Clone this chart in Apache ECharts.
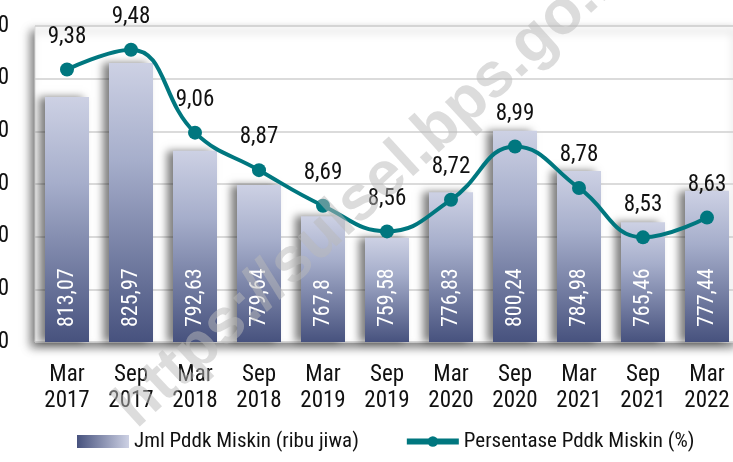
<!DOCTYPE html>
<html><head><meta charset="utf-8">
<script src="https://cdn.jsdelivr.net/npm/echarts@6/dist/echarts.min.js"></script>
<style>html,body{margin:0;padding:0;background:#fff}#c{width:733px;height:462px}</style>
</head><body><div id="c"></div>
<script>
const categories = ['Mar\n2017','Sep\n2017','Mar\n2018','Sep\n2018','Mar\n2019','Sep\n2019','Mar\n2020','Sep\n2020','Mar\n2021','Sep\n2021','Mar\n2022'];
const jmlMiskin = [813.07, 825.97, 792.63, 779.64, 767.8, 759.58, 776.83, 800.24, 784.98, 765.46, 777.44];
const persenMiskin = [9.38, 9.48, 9.06, 8.87, 8.69, 8.56, 8.72, 8.99, 8.78, 8.53, 8.63];
const barName = 'Jml Pddk Miskin (ribu jiwa)';
const lineName = 'Persentase Pddk Miskin (%)';
const watermark = 'https://sulsel.bps.go.id';

const FONT = "'Liberation Sans Narrow','Arial Narrow','Roboto Condensed','Liberation Sans',sans-serif";
const fmt = v => String(v).replace('.', ',');

const chart = echarts.init(document.getElementById('c'), null, {renderer:'canvas'});
chart.setOption({
  animation:false,
  backgroundColor:'#fff',
  textStyle:{fontFamily:FONT},
  grid:{left:35, top:26, width:704, height:316, show:true, backgroundColor:'#fff',
        outerBoundsMode:'none', containLabel:false,
        borderWidth:1, borderColor:'#d8d8d8',
        shadowColor:'rgba(0,0,0,0.5)', shadowBlur:9, shadowOffsetX:-4, shadowOffsetY:5},
  legend:{bottom:5, left:72, itemGap:45, itemWidth:52, itemHeight:13,
    textStyle:{fontFamily:FONT, fontSize:21, color:'#111'},
    data:[
      {name:barName, icon:'rect',
       itemStyle:{color:new echarts.graphic.LinearGradient(0,0,1,0,[{offset:0,color:'#47527e'},{offset:1,color:'#cdd1e4'}])}},
      {name:lineName, lineStyle:{width:6}}
    ]},
  xAxis:{type:'category', data:categories,
    axisLine:{show:false}, axisTick:{show:false},
    axisLabel:{fontFamily:FONT, fontSize:23, color:'#111', lineHeight:26, margin:20}},
  yAxis:[
    {type:'value', min:720, max:840, interval:20,
     splitLine:{lineStyle:{color:'#cfcfcf', width:1.5}},
     axisLine:{show:false}, axisTick:{show:false},
     axisLabel:{fontFamily:FONT, fontSize:23, color:'#111', margin:26}},
    {type:'value', min:8, max:9.6, show:false, splitLine:{show:false}}
  ],
  series:[
    {name:barName, type:'bar', data:jmlMiskin, barWidth:44, yAxisIndex:0,
     itemStyle:{
       color:new echarts.graphic.LinearGradient(0,0,0,1,[
         {offset:0,color:'#cdd1e4'},{offset:0.35,color:'#a6aecb'},{offset:1,color:'#47527e'}]),
       shadowColor:'rgba(0,0,0,0.5)', shadowBlur:8, shadowOffsetX:-6, shadowOffsetY:0},
     label:{show:true, position:'insideBottom', rotate:90, align:'left', verticalAlign:'middle',
       distance:15, color:'#fff', fontFamily:FONT, fontSize:22, formatter:p=>fmt(p.value)}},
    {name:lineName, type:'line', data:persenMiskin, yAxisIndex:1, smooth:0.45,
     symbol:'circle', symbolSize:14, z:5,
     lineStyle:{color:'#00777f', width:4},
     itemStyle:{color:'#00777f'},
     label:{show:true, position:'top', distance:14, color:'#111', fontFamily:FONT, fontSize:23,
       formatter:p=>fmt(p.value)}}
  ],
  graphic:[{type:'text', x:146, y:440, rotation:Math.PI*42.5/180, z:100,
    style:{text:watermark, x:0, y:0, textVerticalAlign:'bottom',
      font:"bold 63px 'Liberation Sans', Arial, sans-serif", fill:'rgba(185,185,185,0.5)'}}]
});
</script></body></html>
